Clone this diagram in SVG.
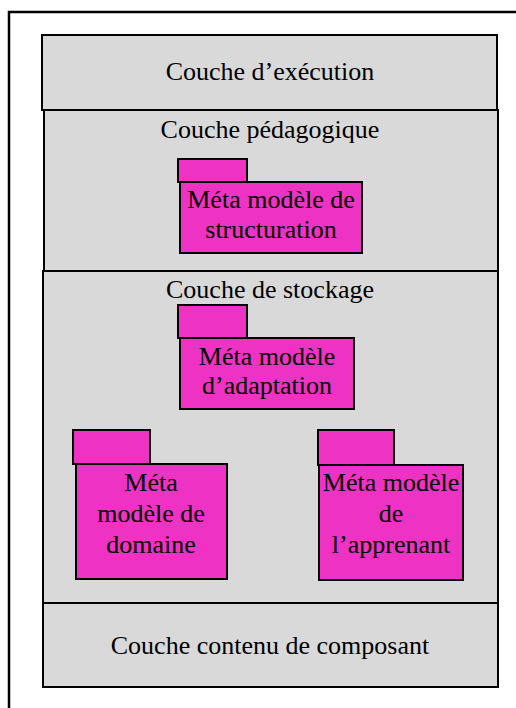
<svg xmlns="http://www.w3.org/2000/svg" width="516" height="708" viewBox="0 0 516 708">
  <style>
    .layer { fill: #d9d9d9; stroke: #000; stroke-width: 2; }
    .pkg { fill: #ee32c4; stroke: #000; stroke-width: 2; }
    .label { font-family: "Liberation Serif", "Times New Roman", serif; font-size: 26px; fill: #000; text-anchor: middle; }
    .frame { fill: none; stroke: #000; stroke-width: 2.5; }
  </style>
  <rect width="516" height="708" fill="#fff"/>

  <!-- page frame -->
  <path class="frame" d="M9,708 V12 H516"/>

  <!-- layers -->
  <g id="couche-execution">
    <rect class="layer" x="42" y="35" width="455" height="75"/>
    <text class="label" x="270" y="80">Couche d’exécution</text>
  </g>

  <g id="couche-pedagogique">
    <rect class="layer" x="44" y="110" width="454" height="161"/>
    <text class="label" x="270" y="138">Couche pédagogique</text>
  </g>

  <g id="couche-stockage">
    <rect class="layer" x="43" y="271" width="455" height="332"/>
    <text class="label" x="270" y="298">Couche de stockage</text>
  </g>

  <g id="couche-contenu">
    <rect class="layer" x="43" y="603" width="455" height="84"/>
    <text class="label" x="270" y="654">Couche contenu de composant</text>
  </g>

  <!-- packages -->
  <g id="pkg-structuration">
    <rect class="pkg" x="178" y="159" width="69" height="23"/>
    <rect class="pkg" x="180" y="182" width="182" height="71"/>
    <text class="label" x="271" y="208">Méta modèle de</text>
    <text class="label" x="271" y="238">structuration</text>
  </g>

  <g id="pkg-adaptation">
    <rect class="pkg" x="178" y="305" width="69" height="33"/>
    <rect class="pkg" x="180" y="338" width="174" height="71"/>
    <text class="label" x="267" y="365">Méta modèle</text>
    <text class="label" x="267" y="394">d’adaptation</text>
  </g>

  <g id="pkg-domaine">
    <rect class="pkg" x="73" y="430" width="77" height="34"/>
    <rect class="pkg" x="76" y="464" width="151" height="115"/>
    <text class="label" x="151" y="491">Méta</text>
    <text class="label" x="151" y="522">modèle de</text>
    <text class="label" x="151" y="553">domaine</text>
  </g>

  <g id="pkg-apprenant">
    <rect class="pkg" x="318" y="430" width="76" height="35"/>
    <rect class="pkg" x="319" y="465" width="144" height="115"/>
    <text class="label" x="391" y="491">Méta modèle</text>
    <text class="label" x="391" y="522">de</text>
    <text class="label" x="391" y="553">l’apprenant</text>
  </g>

  <g id="connectors"/>
</svg>
